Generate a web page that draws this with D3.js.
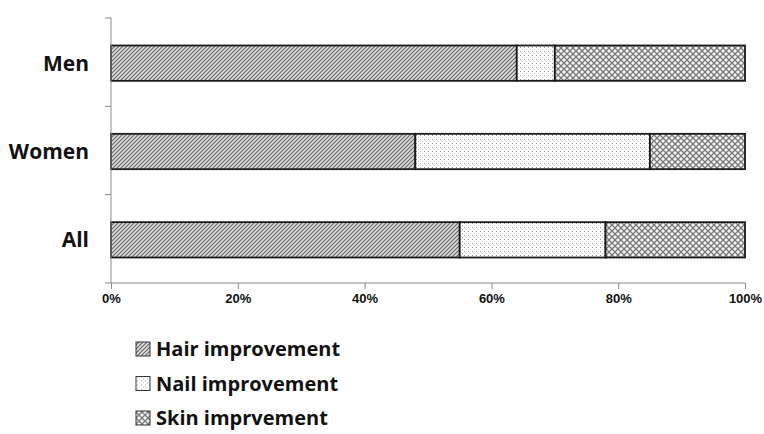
<!DOCTYPE html>
<html>
<head>
<meta charset="utf-8">
<script src="https://cdn.jsdelivr.net/npm/d3@7"></script>
<style>
  html, body { margin: 0; padding: 0; background: #fff; }
  svg { display: block; font-family: "Open Sans", "Liberation Sans", sans-serif; }
</style>
</head>
<body>
<svg id="chart" width="764" height="434"></svg>
<script>
// Share of each improvement type, percent of respondents
const groups = ["Men", "Women", "All"];
const seriesNames = ["Hair improvement", "Nail improvement", "Skin imprvement"];
const hairValues = [64, 48, 55];
const nailValues = [6, 37, 23];
const skinValues = [30, 15, 22];
const tickLabels = ["0%", "20%", "40%", "60%", "80%", "100%"];
const tickValues = [0, 20, 40, 60, 80, 100];

const svg = d3.select("#chart");
const defs = svg.append("defs");

// Fill patterns: diagonal hatch, fine dots, diamond crosshatch
const pHair = defs.append("pattern").attr("id", "pat-hair")
  .attr("patternUnits", "userSpaceOnUse").attr("width", 4).attr("height", 4);
pHair.append("rect").attr("width", 4).attr("height", 4).attr("fill", "#e0e0e0");
pHair.append("path").attr("d", "M-1,1 L1,-1 M0,4 L4,0 M3,5 L5,3")
  .attr("stroke", "#666").attr("stroke-width", 1.2);

const pNail = defs.append("pattern").attr("id", "pat-nail")
  .attr("patternUnits", "userSpaceOnUse").attr("width", 4).attr("height", 4);
pNail.append("rect").attr("width", 4).attr("height", 4).attr("fill", "#fff");
pNail.append("rect").attr("x", 1).attr("y", 1).attr("width", 1).attr("height", 1).attr("fill", "#9a9a9a");
pNail.append("rect").attr("x", 3).attr("y", 3).attr("width", 1).attr("height", 1).attr("fill", "#c8c8c8");

const pSkin = defs.append("pattern").attr("id", "pat-skin")
  .attr("patternUnits", "userSpaceOnUse").attr("width", 6).attr("height", 6);
pSkin.append("rect").attr("width", 6).attr("height", 6).attr("fill", "#f4f4f4");
pSkin.append("path").attr("d", "M0,0 L6,6 M6,0 L0,6")
  .attr("stroke", "#7a7a7a").attr("stroke-width", 1.3);

const fills = ["url(#pat-hair)", "url(#pat-nail)", "url(#pat-skin)"];

const margin = { left: 111, right: 19, top: 18, bottom: 151 };
const width = 764 - margin.left - margin.right;
const height = 434 - margin.top - margin.bottom;

const g = svg.append("g").attr("transform", `translate(${margin.left},${margin.top})`);

const x = d3.scaleLinear().domain([0, 100]).range([0, width]);
const y = d3.scaleBand().domain(groups).range([0, height]).paddingInner(0.6).paddingOuter(0.3);

// Stack the three series per group
const rows = groups.map((grp, i) => ({
  group: grp,
  [seriesNames[0]]: hairValues[i],
  [seriesNames[1]]: nailValues[i],
  [seriesNames[2]]: skinValues[i]
}));
const stacked = d3.stack().keys(seriesNames)(rows);

g.selectAll("g.series").data(stacked).join("g")
  .attr("class", "series")
  .attr("fill", (d, i) => fills[i])
  .selectAll("rect").data(d => d).join("rect")
  .attr("x", d => x(d[0]))
  .attr("y", d => y(d.data.group) + 1)
  .attr("width", d => x(d[1]) - x(d[0]))
  .attr("height", y.bandwidth())
  .attr("stroke", "#1a1a1a")
  .attr("stroke-width", 1.8);

// X axis
const xAxis = g.append("g").attr("transform", `translate(0,${height})`)
  .call(d3.axisBottom(x).tickValues(tickValues)
    .tickFormat((d, i) => tickLabels[i]).tickSize(6).tickSizeOuter(0));
xAxis.select(".domain").attr("stroke", "#8c8c8c").attr("d", `M0,0H${width}`);
xAxis.selectAll(".tick line").attr("stroke", "#8c8c8c");
xAxis.selectAll(".tick text").attr("y", 11).attr("dy", "0.71em").attr("fill", "#111")
  .attr("font-size", 13).attr("font-weight", "bold");

// Y axis with ticks between categories
const yAxis = g.append("g");
yAxis.append("line").attr("x1", 0).attr("x2", 0).attr("y1", 0).attr("y2", height)
  .attr("stroke", "#8c8c8c");
const step = height / groups.length;
yAxis.selectAll("line.sep").data(d3.range(groups.length + 1)).join("line")
  .attr("class", "sep")
  .attr("x1", -6).attr("x2", 0)
  .attr("y1", d => d * step).attr("y2", d => d * step)
  .attr("stroke", "#8c8c8c");
yAxis.selectAll("text").data(groups).join("text")
  .attr("x", -22)
  .attr("y", d => y(d) + y.bandwidth() / 2 + 1)
  .attr("dy", "0.35em")
  .attr("text-anchor", "end")
  .attr("font-size", 21).attr("font-weight", "bold").attr("fill", "#111")
  .text(d => d);

// Legend
const legend = svg.append("g").attr("transform", "translate(136,349)");
const li = legend.selectAll("g").data(seriesNames).join("g")
  .attr("transform", (d, i) => `translate(0,${i * 34.5})`);
li.append("rect").attr("x", 0).attr("y", -7).attr("width", 14).attr("height", 14)
  .attr("fill", (d, i) => fills[i]).attr("stroke", "#333").attr("stroke-width", 1);
li.append("text").attr("x", 20).attr("dy", "0.35em")
  .attr("font-size", 20).attr("font-weight", "bold").attr("fill", "#111")
  .text(d => d);
</script>
</body>
</html>
